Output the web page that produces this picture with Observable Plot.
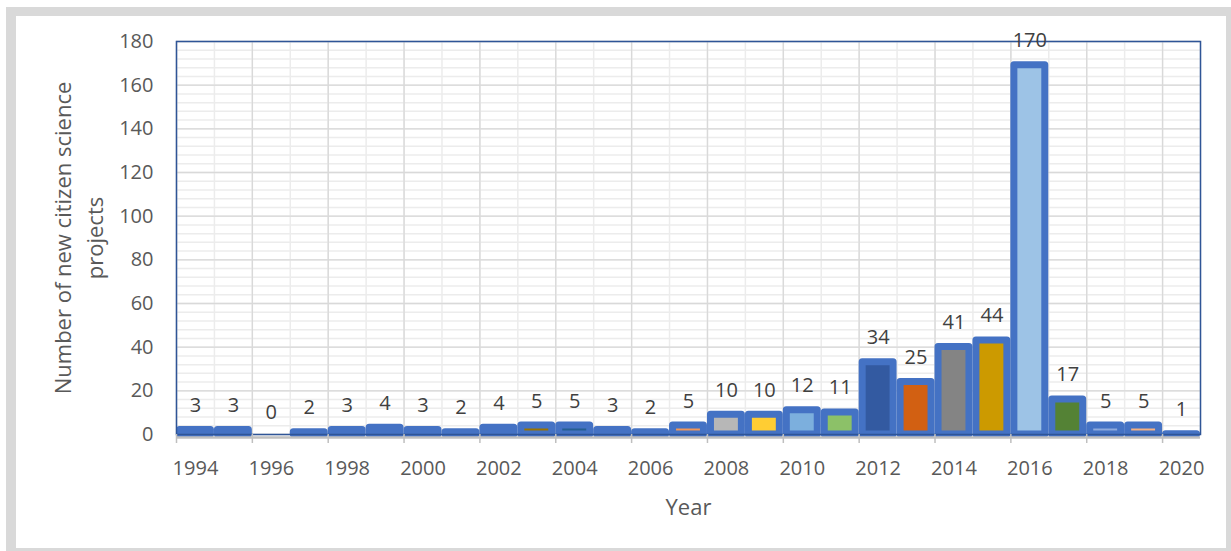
<!DOCTYPE html>
<html>
<head>
<meta charset="utf-8">
<script src="https://cdn.jsdelivr.net/npm/d3@7"></script>
<script src="https://cdn.jsdelivr.net/npm/@observablehq/plot@0.6"></script>
<style>
  html, body { margin: 0; padding: 0; background: #ffffff; overflow: hidden; }
  #wrap { position: relative; width: 1231px; height: 551px; }
  #frame { position: absolute; left: 6px; top: 7px; width: 1225px; height: 544px; box-sizing: border-box;
           border-left: 10px solid #d9d9d9; border-top: 9px solid #d9d9d9; border-right: 5px solid #d9d9d9; border-bottom: 3px solid #d9d9d9; pointer-events: none; }
  #chart { position: absolute; left: 0; top: 0; }
</style>
</head>
<body>
<div id="wrap"><div id="chart"></div><div id="frame"></div></div>
<script>
// ---- data ----
const years = [1994, 1995, 1996, 1997, 1998, 1999, 2000, 2001, 2002, 2003, 2004, 2005, 2006, 2007,
               2008, 2009, 2010, 2011, 2012, 2013, 2014, 2015, 2016, 2017, 2018, 2019, 2020];
const counts = [3, 3, 0, 2, 3, 4, 3, 2, 4, 5, 5, 3, 2, 5,
                10, 10, 12, 11, 34, 25, 41, 44, 170, 17, 5, 5, 1];
const palette = ["#4472C4", "#ED7D31", "#A5A5A5", "#FFC000", "#5B9BD5", "#70AD47",
                 "#264478", "#9E480E", "#636363", "#997300", "#255E91", "#43682B",
                 "#698ED0", "#F1975A", "#B7B7B7", "#FFCD33", "#7CAFDD", "#8CC168",
                 "#335AA1", "#D26012", "#848484", "#CC9A00", "#9DC3E6", "#548235",
                 "#8FAADC", "#F4B183", "#C9C9C9"];
const tickYears = [1994, 1996, 1998, 2000, 2002, 2004, 2006, 2008, 2010, 2012, 2014, 2016, 2018, 2020];
const yTicks = [0, 20, 40, 60, 80, 100, 120, 140, 160, 180];
const yTitle = "Number of new citizen science\nprojects";
const xTitle = "Year";

const data = years.map((year, i) => ({year, count: counts[i]}));

const chart = Plot.plot({
  width: 1231,
  height: 551,
  marginLeft: 176,
  marginRight: 31,
  marginTop: 41,
  marginBottom: 117,
  style: {fontFamily: "'Open Sans', sans-serif", fontSize: "20px", color: "#595959", background: "transparent", overflow: "visible"},
  x: {type: "linear", domain: [1994, 2021]},
  y: {domain: [0, 180]},
  color: {type: "ordinal", domain: years, range: palette},
  marks: [
    Plot.gridY({interval: 4, stroke: "#ececec", strokeOpacity: 1, strokeWidth: 1.5}),
    Plot.gridX({interval: 1, stroke: "#ececec", strokeOpacity: 1, strokeWidth: 1.5}),
    Plot.gridY(yTicks, {stroke: "#d9d9d9", strokeOpacity: 1, strokeWidth: 1.3}),
    Plot.gridX(tickYears, {stroke: "#d9d9d9", strokeOpacity: 1, strokeWidth: 1.3}),
    Plot.rectY(data.filter(d => d.count > 0), {
      x1: "year", x2: d => d.year + 1, y1: 0, y2: "count",
      fill: "year", stroke: "#4472C4", strokeWidth: 7, strokeLinejoin: "round",
      insetLeft: 3.5, insetRight: 3.5, insetTop: 2
    }),
    Plot.frame({stroke: "#2F5597", strokeWidth: 1.5}),
    Plot.ruleY([0], {stroke: "#bfbfbf", strokeWidth: 2.5, dy: 3}),
    Plot.axisX(tickYears, {tickSize: 9, fill: "none", stroke: "#bfbfbf", strokeWidth: 1.5, label: null}),
    Plot.axisY(yTicks, {tickSize: 0, tickPadding: 23, fill: "#595959", fontSize: 20, label: null}),
    Plot.text(tickYears, {x: d => d + 0.5, frameAnchor: "bottom", lineAnchor: "top", dy: 26,
      text: d => String(d), fill: "#595959", fontSize: 20}),
    Plot.text(data, {x: d => d.year + 0.5, y: "count", text: d => String(d.count),
      lineAnchor: "bottom", dy: -16, fill: "#404040", fontSize: 20}),
    Plot.text([xTitle], {frameAnchor: "bottom", lineAnchor: "bottom", dy: 80,
      text: d => d, fill: "#595959", fontSize: 22}),
    Plot.text([yTitle], {frameAnchor: "left", rotate: -90, textAnchor: "middle", lineAnchor: "middle",
      dx: -100, lineHeight: 1.45, text: d => d, fill: "#595959", fontSize: 22})
  ]
});
document.getElementById("chart").appendChild(chart);
</script>
</body>
</html>
